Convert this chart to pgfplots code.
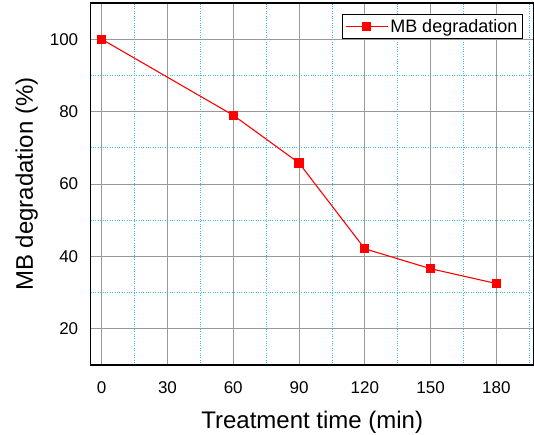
\documentclass[border=0pt]{standalone}
\usepackage{fontspec}
\setmainfont{Liberation Sans}
\usepackage{pgfplots}
\pgfplotsset{compat=1.18}
\begin{document}
\begin{tikzpicture}
\begin{axis}[
  at={(0,0)}, anchor=south west,
  scale only axis,
  width=443bp, height=362bp,
  xmin=-5, xmax=197, ymin=10, ymax=110,
  xtick={0,30,...,180}, minor xtick={15,45,...,195},
  ytick={20,40,...,100}, minor ytick={30,50,...,90},
  grid=both,
  major grid style={gray!80, line width=0.8pt},
  minor grid style={cyan!80, dotted, line width=0.8pt},
  major tick length=0pt, minor tick length=0pt,
  axis line style={black, line width=1.1pt},
  tick label style={font=\fontsize{17bp}{19bp}\selectfont},
  /pgf/number format/assume math mode=true,
  xticklabel style={yshift=-13bp},
  yticklabel style={xshift=-9bp},
  label style={font=\fontsize{24bp}{28bp}\selectfont},
  xlabel={Treatment time (min)},
  ylabel={MB degradation (\%)},
  xlabel style={yshift=-11bp},
  ylabel style={yshift=5bp},
  legend style={at={(rel axis cs:0.975,0.97)}, anchor=north east,
    font=\fontsize{18bp}{20bp}\selectfont, draw=black, line width=0.6pt,
    inner sep=3bp, row sep=0pt},
  legend cell align=left,
  legend image code/.code={
    \draw[#1, line width=1.1pt] (0bp,0bp) -- (42bp,0bp);
    \path[#1] plot coordinates {(21bp,0bp)};
  },
]
\addplot[red, line width=1.1pt, mark=square*, mark size=4bp, mark options={solid, fill=red}]
  coordinates {(0,100) (60,79) (90,65.8) (120,42.1) (150,36.6) (180,32.5)};
\addlegendentry{MB degradation}
\end{axis}
\pgfresetboundingbox
\path[use as bounding box] (-90.7bp,-70bp) rectangle (443.3bp,365bp);
\end{tikzpicture}
\end{document}
